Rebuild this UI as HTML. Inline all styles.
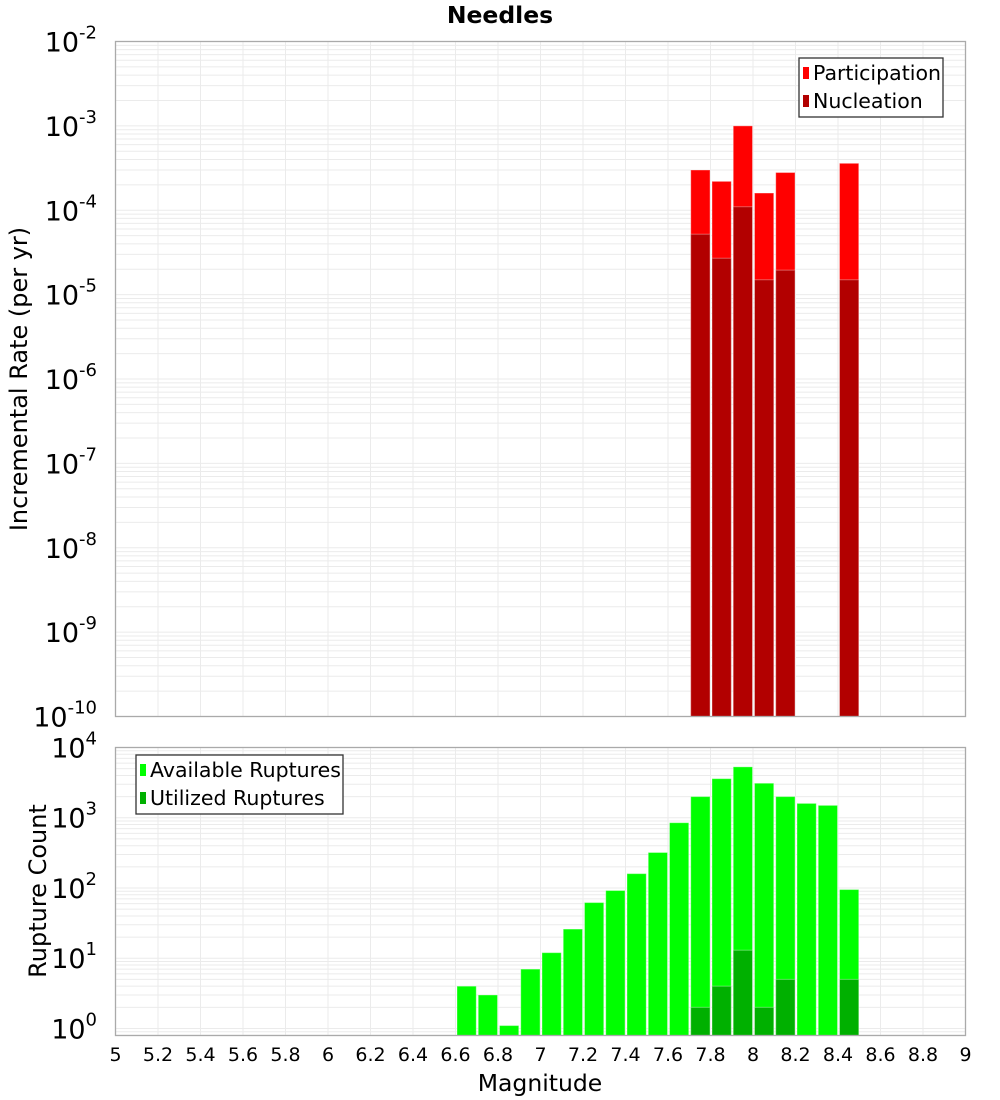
<!DOCTYPE html>
<html><head><meta charset="utf-8">
<style>
html,body{margin:0;padding:0;background:#fff;}
svg{display:block;font-family:"Liberation Sans","DejaVu Sans",sans-serif;}
</style></head>
<body>
<svg id="chart" width="1000" height="1100" viewBox="0 0 1000 1100" xmlns="http://www.w3.org/2000/svg">
<text x="500" y="23" text-anchor="middle" font-size="23.5" font-weight="bold" font-family="DejaVu Sans, sans-serif">Needles</text>
<g id="top"></g>
<g id="bot"></g>
<text transform="translate(27,379) rotate(-90)" text-anchor="middle" font-size="24" font-family="DejaVu Sans, sans-serif">Incremental Rate (per yr)</text>
<text transform="translate(46,891) rotate(-90)" text-anchor="middle" font-size="24" font-family="DejaVu Sans, sans-serif">Rupture Count</text>
<text x="540" y="1091" text-anchor="middle" font-size="23.5" font-family="DejaVu Sans, sans-serif">Magnitude</text>
</svg>
<script>
const rateBins = [7.75, 7.85, 7.95, 8.05, 8.15, 8.45];
const participation = [3.0e-4, 2.2e-4, 1.0e-3, 1.6e-4, 2.8e-4, 3.6e-4];
const nucleation = [5.2e-5, 2.7e-5, 1.1e-4, 1.5e-5, 1.95e-5, 1.5e-5];
const countBins = [6.65,6.75,6.85,6.95,7.05,7.15,7.25,7.35,7.45,7.55,7.65,7.75,7.85,7.95,8.05,8.15,8.25,8.35,8.45];
const available = [4,3,1.1,7,12,26,62,92,160,320,850,2000,3600,5300,3100,2000,1600,1500,95];
const utilizedBins = [7.75, 7.85, 7.95, 8.05, 8.15, 8.45];
const utilized = [2, 4, 13, 2, 5, 5];
const xTicks = [5,5.2,5.4,5.6,5.8,6,6.2,6.4,6.6,6.8,7,7.2,7.4,7.6,7.8,8,8.2,8.4,8.6,8.8,9];
const topExps = [-10,-9,-8,-7,-6,-5,-4,-3,-2];
const botExps = [0,1,2,3,4];

const NS="http://www.w3.org/2000/svg";
const L=115.5,R=965.5;
const X=m=>L+(m-5)/4*(R-L);
function mk(parent,tag,attrs,txt){const e=document.createElementNS(NS,tag);for(const k in attrs)e.setAttribute(k,attrs[k]);if(txt!==undefined)e.textContent=txt;parent.appendChild(e);return e;}

function panel(g,top,bot,lmin,lmax,name){
  const Y=v=>bot-(Math.log10(v)-lmin)/(lmax-lmin)*(bot-top);
  const bg=mk(g,'rect',{x:L,y:top,width:R-L,height:bot-top,fill:'#fff'});
  
  
  for(let e=Math.floor(lmin);e<Math.ceil(lmax);e++){
    for(let k=1;k<10;k++){const v=k*Math.pow(10,e);const lv=Math.log10(v);if(lv<lmin||lv>lmax)continue;
      const y=Y(v);const gl=mk(g,'line',{x1:L,x2:R,y1:y,y2:y,stroke:'#ebebeb','stroke-width':1});
      
      }
  }
  xTicks.forEach(t=>{const x=X(t);const gl=mk(g,'line',{x1:x,x2:x,y1:top,y2:bot,stroke:'#ebebeb','stroke-width':1});
    
    });
  return Y;
}
function bar(g,m,v,Y,bot,fill,name){
  const x0=X(m-0.05)+1.5,x1=X(m+0.05)-0.5;
  const y=Y(v);
  const r=mk(g,'rect',{x:x0,y:y,width:x1-x0,height:bot-y,fill:fill,stroke:'rgba(255,255,255,0.35)','stroke-width':1});
  
  
}
function ylabels(g,exps,Y,name,dy){
  exps.forEach(e=>{const y=Y(Math.pow(10,e));
    const t=mk(g,'text',{x:97,y:y+dy,'text-anchor':'end','font-size':27,'font-family':'DejaVu Sans, sans-serif'});
    
    
    mk(t,'tspan',{},'10');
    mk(t,'tspan',{dy:-13,'font-size':18},String(e));
  });
}
function legend(g,x,y,w,h,items,name){
  const b=mk(g,'rect',{x:x,y:y,width:w,height:h,fill:'#fff',stroke:'#333','stroke-width':1.3});
  
  
  items.forEach((it,i)=>{const yy=y+15+i*28;
    const s=mk(g,'rect',{x:x+4,y:yy-6,width:6,height:12,fill:it[1]});
    
    
    const t=mk(g,'text',{x:x+14,y:yy+7,'font-size':20.5,'font-family':'DejaVu Sans, sans-serif'},it[0]);
    
    });
}

const gt=document.getElementById('top');
const tTop=41.5,tBot=716.5;
const Yt=panel(gt,tTop,tBot,-10,-2,'rate');
rateBins.forEach((m,i)=>bar(gt,m,participation[i],Yt,tBot,'#ff0000','participation-bar'));
rateBins.forEach((m,i)=>bar(gt,m,nucleation[i],Yt,tBot,'#b20000','nucleation-bar'));
const bt=mk(gt,'rect',{x:L,y:tTop,width:R-L,height:tBot-tTop,fill:'none',stroke:'#aaa','stroke-width':1.3});


ylabels(gt,topExps,Yt,'rate-y',10);
legend(gt,799,58,144,59,[['Participation','#ff0000'],['Nucleation','#b20000']],'rate-legend');

const gb=document.getElementById('bot');
const bTop=747.5,bBot=1035.5;
const Yb=panel(gb,bTop,bBot,-0.1,4,'count');
countBins.forEach((m,i)=>bar(gb,m,available[i],Yb,bBot,'#00ff00','available-bar'));
utilizedBins.forEach((m,i)=>bar(gb,m,utilized[i],Yb,bBot,'#00b000','utilized-bar'));
const bb=mk(gb,'rect',{x:L,y:bTop,width:R-L,height:bBot-bTop,fill:'none',stroke:'#aaa','stroke-width':1.3});


ylabels(gb,botExps,Yb,'count-y',10);
legend(gb,136,755,207,59,[['Available Ruptures','#00ff00'],['Utilized Ruptures','#00b000']],'count-legend');

xTicks.forEach(t=>{const tx=mk(gb,'text',{x:X(t),y:1061,'text-anchor':'middle','font-size':19,'font-family':'DejaVu Sans, sans-serif'},String(t));
  
  });
</script>
</body></html>
